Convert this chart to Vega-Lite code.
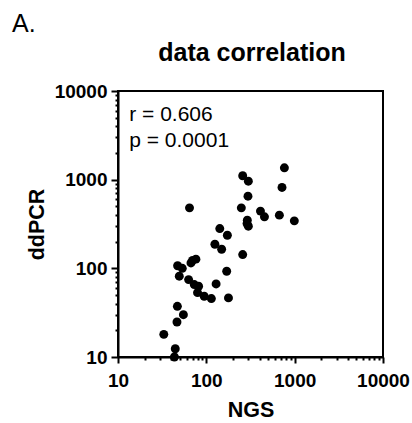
{
  "$schema": "https://vega.github.io/schema/vega-lite/v6.json",
  "width": 265,
  "height": 266,
  "autosize": "none",
  "padding": {"left": 118, "top": 91, "right": 29, "bottom": 66},
  "background": "white",
  "config": {
    "font": "Liberation Sans",
    "view": {"stroke": "black", "strokeWidth": 2},
    "axis": {
      "grid": false,
      "domainColor": "black",
      "domainWidth": 2,
      "tickColor": "black",
      "tickWidth": 2,
      "labelColor": "black",
      "labelFont": "Liberation Sans",
      "labelFontSize": 19,
      "labelFontWeight": "bold",
      "labelFlush": false,
      "labelOverlap": false,
      "titleColor": "black",
      "titleFont": "Liberation Sans",
      "titleFontSize": 21.5,
      "titleFontWeight": "bold"
    }
  },
  "datasets": {
    "points": [
      {"NGS": 33, "ddPCR": 18},
      {"NGS": 43.5, "ddPCR": 10},
      {"NGS": 44.5, "ddPCR": 12.4},
      {"NGS": 46.5, "ddPCR": 24.8},
      {"NGS": 55, "ddPCR": 30},
      {"NGS": 47, "ddPCR": 37.3},
      {"NGS": 47.3, "ddPCR": 107},
      {"NGS": 53.4, "ddPCR": 100},
      {"NGS": 49.4, "ddPCR": 81.5},
      {"NGS": 63, "ddPCR": 74.6},
      {"NGS": 64.5, "ddPCR": 481},
      {"NGS": 69.8, "ddPCR": 123},
      {"NGS": 76.2, "ddPCR": 127},
      {"NGS": 67, "ddPCR": 115},
      {"NGS": 73, "ddPCR": 65.6},
      {"NGS": 81.7, "ddPCR": 62.8},
      {"NGS": 79.5, "ddPCR": 53.2},
      {"NGS": 94.6, "ddPCR": 48.4},
      {"NGS": 114, "ddPCR": 45.6},
      {"NGS": 129, "ddPCR": 66.7},
      {"NGS": 178, "ddPCR": 46.4},
      {"NGS": 170, "ddPCR": 92.7},
      {"NGS": 125, "ddPCR": 187},
      {"NGS": 149, "ddPCR": 164},
      {"NGS": 142, "ddPCR": 281},
      {"NGS": 173, "ddPCR": 236},
      {"NGS": 258, "ddPCR": 143},
      {"NGS": 249, "ddPCR": 481},
      {"NGS": 258, "ddPCR": 1107},
      {"NGS": 299, "ddPCR": 962},
      {"NGS": 296, "ddPCR": 651},
      {"NGS": 291, "ddPCR": 349},
      {"NGS": 299, "ddPCR": 299},
      {"NGS": 289, "ddPCR": 320},
      {"NGS": 410, "ddPCR": 442},
      {"NGS": 455, "ddPCR": 381},
      {"NGS": 671, "ddPCR": 398},
      {"NGS": 719, "ddPCR": 817},
      {"NGS": 765, "ddPCR": 1361},
      {"NGS": 991, "ddPCR": 343}
    ],
    "notes": [
      {"label": "r = 0.606", "NGS": 13.4, "ddPCR": 4588, "size": 21},
      {"label": "p = 0.0001", "NGS": 13.4, "ddPCR": 2354, "size": 21},
      {"label": "A.", "NGS": 0.631, "ddPCR": 46200, "size": 25}
    ],
    "heading": [
      {"label": "data correlation", "NGS": 329, "ddPCR": 21780}
    ]
  },
  "layer": [
    {
      "data": {"name": "points"},
      "mark": {"type": "point", "shape": "circle", "filled": true, "color": "black", "opacity": 1, "size": 80},
      "encoding": {
        "x": {
          "field": "NGS",
          "type": "quantitative",
          "title": "NGS",
          "scale": {"type": "log", "domain": [10, 10000], "nice": false},
          "axis": {
            "values": [10, 20, 30, 40, 50, 60, 70, 80, 90, 100, 200, 300, 400, 500, 600, 700, 800, 900, 1000, 2000, 3000, 4000, 5000, 6000, 7000, 8000, 9000, 10000],
            "labelExpr": "(datum.value == 10 || datum.value == 100 || datum.value == 1000 || datum.value == 10000) ? '' + datum.value : ''",
            "tickSize": {"condition": {"test": "datum.value == 10 || datum.value == 100 || datum.value == 1000 || datum.value == 10000", "value": 6}, "value": 3},
            "labelPadding": 8,
            "titlePadding": 9
          }
        },
        "y": {
          "field": "ddPCR",
          "type": "quantitative",
          "title": "ddPCR",
          "scale": {"type": "log", "domain": [10, 10000], "nice": false},
          "axis": {
            "values": [10, 20, 30, 40, 50, 60, 70, 80, 90, 100, 200, 300, 400, 500, 600, 700, 800, 900, 1000, 2000, 3000, 4000, 5000, 6000, 7000, 8000, 9000, 10000],
            "labelExpr": "(datum.value == 10 || datum.value == 100 || datum.value == 1000 || datum.value == 10000) ? '' + datum.value : ''",
            "tickSize": {"condition": {"test": "datum.value == 10 || datum.value == 100 || datum.value == 1000 || datum.value == 10000", "value": 7}, "value": 3},
            "labelPadding": 4,
            "titlePadding": 6
          }
        }
      }
    },
    {
      "data": {"name": "notes"},
      "mark": {"type": "text", "align": "left", "baseline": "alphabetic", "color": "black", "font": "Liberation Sans", "fontWeight": "normal", "clip": false},
      "encoding": {
        "x": {"field": "NGS", "type": "quantitative", "scale": {"type": "log", "domain": [10, 10000], "nice": false}},
        "y": {"field": "ddPCR", "type": "quantitative", "scale": {"type": "log", "domain": [10, 10000], "nice": false}},
        "text": {"field": "label"},
        "size": {"field": "size", "type": "quantitative", "scale": null, "legend": null}
      }
    },
    {
      "data": {"name": "heading"},
      "mark": {"type": "text", "align": "center", "baseline": "alphabetic", "color": "black", "font": "Liberation Sans", "fontWeight": "bold", "fontSize": 25, "clip": false},
      "encoding": {
        "x": {"field": "NGS", "type": "quantitative", "scale": {"type": "log", "domain": [10, 10000], "nice": false}},
        "y": {"field": "ddPCR", "type": "quantitative", "scale": {"type": "log", "domain": [10, 10000], "nice": false}},
        "text": {"field": "label"}
      }
    }
  ]
}
